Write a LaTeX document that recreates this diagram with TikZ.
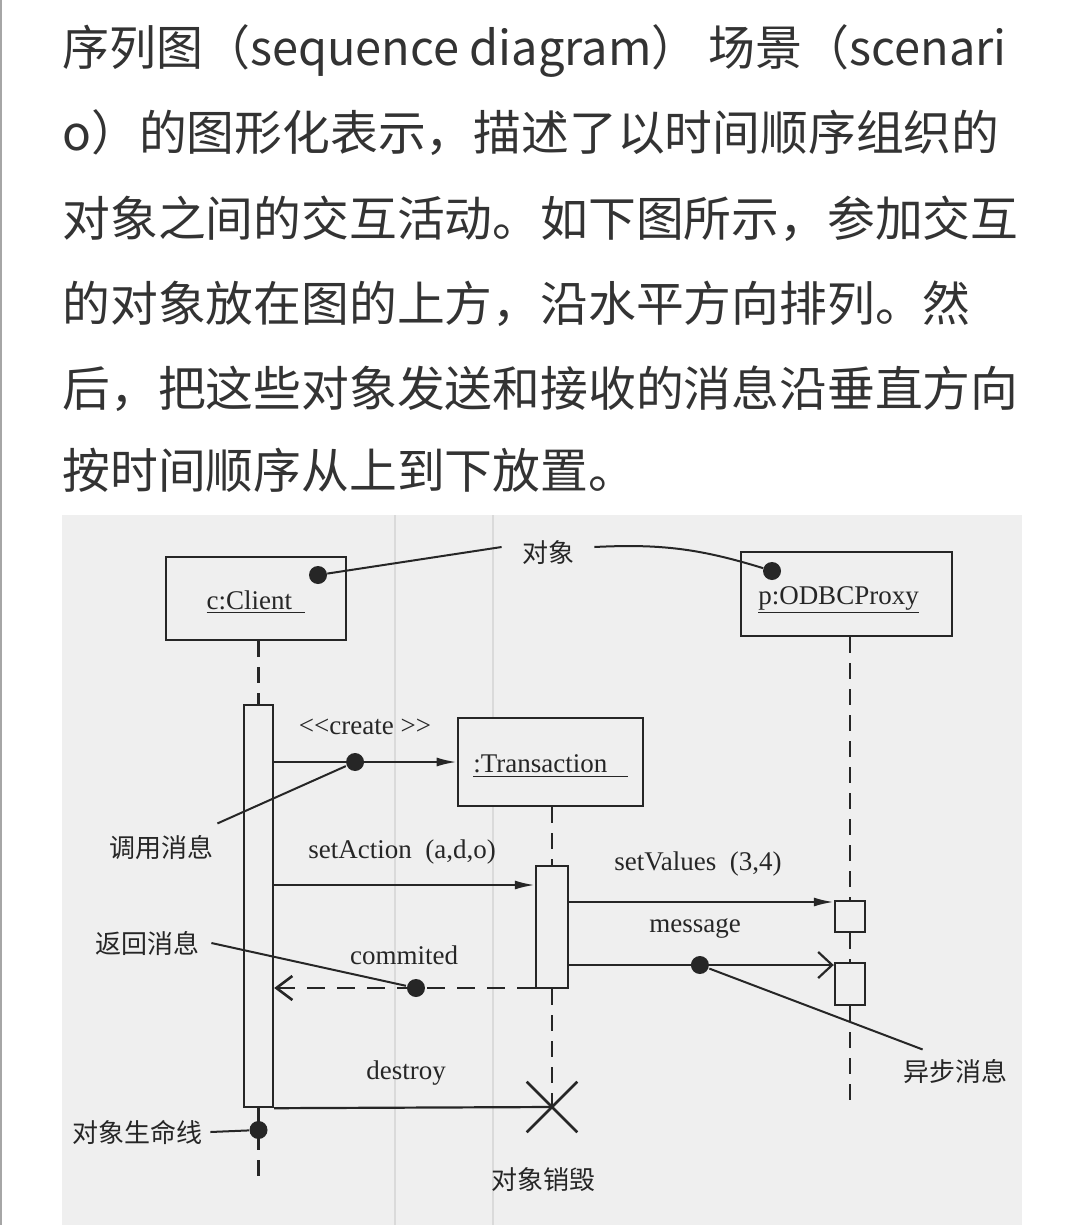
\documentclass[tikz,border=0pt]{standalone}
\usepackage{fontspec}
\usetikzlibrary{arrows.meta,shapes.misc}
\newfontfamily\cjk{Noto Sans CJK SC}
\newfontfamily\umlfont{Liberation Serif}

\definecolor{paper}{HTML}{EFEFEF}
\definecolor{ink}{HTML}{262626}
\definecolor{bodytext}{HTML}{333333}
\definecolor{scan}{HTML}{DADADA}

\begin{document}
\begin{tikzpicture}[x=0.5pt,y=-0.5pt,
  para/.style={anchor=base west, inner sep=0pt, text=bodytext,
    font=\cjk\fontsize{23.9}{28}\selectfont},
  objbox/.style={draw=ink, line width=1.3pt, fill=paper, inner sep=0pt},
  objname/.style={text=ink, inner sep=0pt, font=\umlfont\fontsize{13.5}{16}\selectfont},
  actbar/.style={draw=ink, line width=1.2pt, fill=paper, inner sep=0pt},
  dot/.style={circle, fill=ink, inner sep=0pt, minimum size=9pt},
  lifeline/.style={draw=ink, line width=1.3pt, dash pattern=on 8pt off 5pt},
  call/.style={draw=ink, line width=1.1pt, -{Latex[length=10pt,width=4.5pt]}},
  async/.style={draw=ink, line width=1.1pt, -{Straight Barb[length=7pt,width=13pt]}},
  reply/.style={draw=ink, line width=1.3pt, dash pattern=on 9pt off 6pt,
    -{Straight Barb[length=8pt,width=12pt]}},
  note/.style={draw=ink, line width=1pt},
  msglbl/.style={text=ink, inner sep=0pt, font=\umlfont\fontsize{13.5}{16}\selectfont},
  cjklbl/.style={text=ink, inner sep=0pt, font=\cjk\fontsize{13}{15}\selectfont},
  scanline/.style={draw=scan, line width=0.7pt}
]
\useasboundingbox (0,0) rectangle (1080,1225);
\fill[white] (0,0) rectangle (1080,1225);
\draw[draw=gray!70, line width=1pt] (1,0) -- (1,1225);

% paragraph above the figure
\node[para] (p1) at (62,66)  {\scalebox{0.982}[1]{序列图（sequence diagram） 场景（scenari}};
\node[para] (p2) at (62,151) {o）的图形化表示，描述了以时间顺序组织的};
\node[para] (p3) at (62,236) {对象之间的交互活动。如下图所示，参加交互};
\node[para] (p4) at (62,321) {的对象放在图的上方，沿水平方向排列。然};
\node[para] (p5) at (62,406) {后，把这些对象发送和接收的消息沿垂直方向};
\node[para] (p6) at (62,488) {按时间顺序从上到下放置。};

% figure panel
\fill[paper] (62,515) rectangle (1022,1225);
\draw[scanline] (395,515) -- (395,1225);
\draw[scanline] (493,515) -- (493,1225);

% objects
\node[objbox, minimum width=90pt, minimum height=41.5pt,
  label={[objname, yshift=-2pt]center:\underline{c:Client\ \ }}] (client) at (256,598.5) {};
\node[objbox, minimum width=105.5pt, minimum height=42pt,
  label={[objname, yshift=-3pt, xshift=-4pt]center:\underline{p:ODBCProxy}}] (odbc) at (846.5,594) {};
\node[objbox, minimum width=92.5pt, minimum height=44pt,
  label={[objname, yshift=-2pt]center:\underline{:Transaction\ \ \ }}] (trans) at (550.5,762) {};

% activations
\node[actbar, minimum width=14.5pt, minimum height=201pt] (cbar) at (258.5,906) {};
\node[actbar, minimum width=16pt, minimum height=61pt] (tbar) at (552,927) {};
\node[actbar, minimum width=15pt, minimum height=15.5pt] (act1) at (850,916.5) {};
\node[actbar, minimum width=15pt, minimum height=21pt] (act2) at (850,984) {};

% destruction mark
\node[cross out, draw=ink, line width=1.3pt, inner sep=0pt, minimum size=24pt] (xmark) at (552,1107) {};

% lifelines
\coordinate (clientEnd) at (258.5,1180);
\coordinate (odbcEnd) at (850,1105);
\draw[lifeline] (cbar.north |- client.south) -- (cbar.north);
\draw[lifeline] (cbar.south) -- (clientEnd);
\draw[lifeline] (tbar.north |- trans.south) -- (tbar.north);
\draw[lifeline] (tbar.south) -- (xmark.center);
\draw[lifeline] (act1.north |- odbc.south) -- (act1.north);
\draw[lifeline] (act1.south) -- (act2.north);
\draw[lifeline] (act2.south) -- (odbcEnd);

% message rows
\coordinate (rowAction) at (0,885);
\coordinate (rowValues) at (0,902);
\coordinate (rowMsg) at (0,965);
\coordinate (rowRet) at (0,988);

\draw[call] (cbar.east |- trans.west) -- node[dot, pos=0.443] (createDot) {} (trans.west);
\draw[call] (cbar.east |- rowAction) -- (tbar.west |- rowAction);
\draw[call] (tbar.east |- rowValues) -- (act1.west |- rowValues);
\draw[async] (tbar.east |- rowMsg) -- node[dot, pos=0.494] (msgDot) {} (act2.west |- rowMsg);
\draw[reply] (tbar.west |- rowRet) -- node[dot, pos=0.456] (retDot) {} (cbar.east |- rowRet);
\draw[draw=ink, line width=1.1pt] (cbar.south east) -- (xmark.center);

% message labels
\node[msglbl] (lCreate) at (365,727) {<{}<create >{}>};
\node[msglbl] (lAction) at (402,852) {setAction\ \ (a,d,o)};
\node[msglbl] (lValues) at (698,864) {setValues\ \ (3,4)};
\node[msglbl] (lMsg) at (695,928) {message};
\node[msglbl] (lRet) at (404,955) {commited};
\node[msglbl] (lDestroy) at (406,1073) {destroy};

% dots on objects and lifeline
\node[dot] (clientDot) at (318,575) {};
\node[dot] (odbcDot) at (772,571) {};
\node[dot] (lifeDot) at (258.5,1130) {};

% annotations
\node[cjklbl, inner xsep=10pt] (lObj) at (548,553) {对象};
\node[cjklbl] (lCall) at (161,848) {调用消息};
\node[cjklbl] (lReturn) at (147,943) {返回消息};
\node[cjklbl] (lAsync) at (955,1072) {异步消息};
\node[cjklbl] (lLife) at (137,1132) {对象生命线};
\node[cjklbl] (lDel) at (543,1180) {对象销毁};

\draw[note] ([yshift=3pt]lObj.west) -- (clientDot);
\draw[note] ([yshift=3pt]lObj.east) to[bend left=10] (odbcDot);
\draw[note] ([shift={(2pt,6pt)}]lCall.north east) -- (createDot);
\draw[note] ([xshift=6pt]lReturn.east) -- (retDot);
\draw[note] (msgDot) -- ([shift={(10pt,5pt)}]lAsync.north west);
\draw[note] ([xshift=4pt]lLife.east) -- (lifeDot);
\end{tikzpicture}
\end{document}
